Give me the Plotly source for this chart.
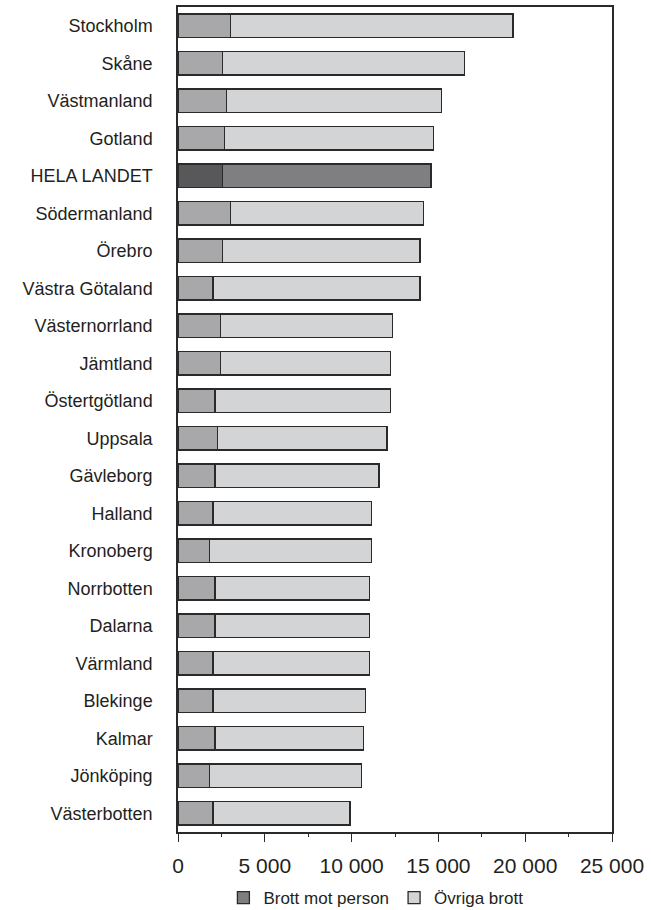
import plotly.graph_objects as go

regions = ["Stockholm", "Skåne", "Västmanland", "Gotland", "HELA LANDET", "Södermanland",
           "Örebro", "Västra Götaland", "Västernorrland", "Jämtland", "Östertgötland",
           "Uppsala", "Gävleborg", "Halland", "Kronoberg", "Norrbotten", "Dalarna",
           "Värmland", "Blekinge", "Kalmar", "Jönköping", "Västerbotten"]

# Brott mot person (per 100 000 inv.)
person = [3040, 2580, 2810, 2690, 2560, 3040, 2580, 2020, 2460, 2460, 2130,
          2270, 2130, 2020, 1810, 2130, 2130, 2020, 2020, 2130, 1810, 2020]
# Totalt (person + övriga)
total = [19300, 16520, 15170, 14730, 14580, 14150, 13940, 13940, 12370, 12250, 12250,
         12040, 11580, 11140, 11140, 11020, 11020, 11020, 10790, 10680, 10560, 9910]
ovriga = [t - p for t, p in zip(total, person)]

series_names = ["Brott mot person", "Övriga brott"]
x_ticks = [0, 5000, 10000, 15000, 20000, 25000]

col_person = ["#58585a" if r == "HELA LANDET" else "#a8a8aa" for r in regions]
col_ovriga = ["#7f7f82" if r == "HELA LANDET" else "#d3d4d5" for r in regions]
line = dict(color="#2a2a2a", width=1.3)
FONT = "Liberation Sans, Arial, sans-serif"

fig = go.Figure()
fig.add_trace(go.Bar(y=regions, x=person, orientation="h", name=series_names[0],
                     marker=dict(color=col_person, line=line), showlegend=False))
fig.add_trace(go.Bar(y=regions, x=ovriga, orientation="h", name=series_names[1],
                     marker=dict(color=col_ovriga, line=line), showlegend=False))
# legend entries
fig.add_trace(go.Bar(y=[None], x=[None], orientation="h", name=series_names[0],
                     marker=dict(color="#7e7e80", line=line)))
fig.add_trace(go.Bar(y=[None], x=[None], orientation="h", name=series_names[1],
                     marker=dict(color="#d3d4d5", line=line)))

fig.update_layout(
    width=651, height=910,
    margin=dict(l=178, r=39, t=7, b=78, autoexpand=False),
    barmode="stack", bargap=0.38,
    plot_bgcolor="white", paper_bgcolor="white",
    separators=", ",
    font=dict(family=FONT, color="#231f20"),
    legend=dict(orientation="h", x=0.456, xanchor="center", y=-0.08, yanchor="middle",
                font=dict(size=17, family=FONT), traceorder="normal",
                itemwidth=30, tracegroupgap=0),
)
fig.update_xaxes(range=[0, 25000], tickvals=x_ticks, tickformat=",d",
                 ticks="outside", ticklen=8, tickcolor="#2a2a2a", tickwidth=1.3,
                 minor=dict(dtick=2500, ticks="outside", ticklen=3, tickcolor="#2a2a2a"),
                 showline=True, linecolor="#2a2a2a", linewidth=1.5, mirror=True,
                 showgrid=False, zeroline=False, tickfont=dict(size=21, family=FONT),
                 ticklabelstandoff=6, automargin=False)
fig.update_yaxes(type="category", categoryorder="array", categoryarray=regions,
                 autorange="reversed", showline=True, linecolor="#2a2a2a", linewidth=1.5,
                 mirror=True, showgrid=False, ticks="", tickfont=dict(size=18, family=FONT),
                 ticklabelstandoff=20, automargin=False)

fig.write_html("out.html", config={"displayModeBar": False},
               post_script="document.body.style.margin='0';document.body.style.overflow='hidden';")
